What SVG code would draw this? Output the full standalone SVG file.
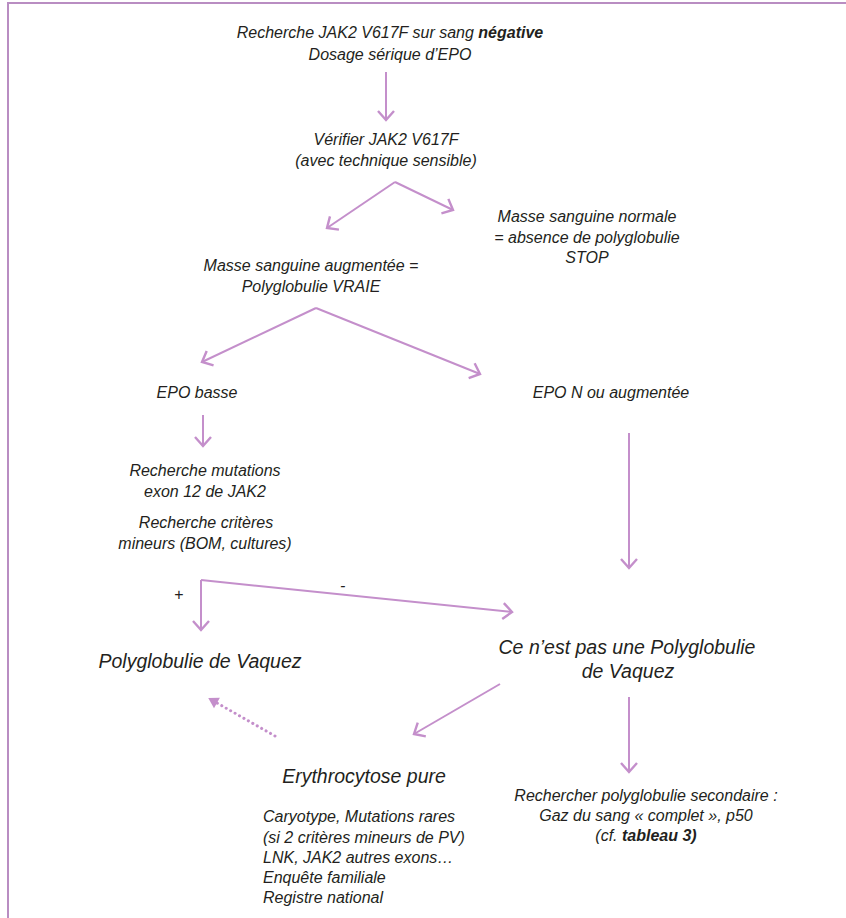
<svg xmlns="http://www.w3.org/2000/svg" width="846" height="918" viewBox="0 0 846 918">
<style>
.t{font-family:"Liberation Sans",Arial,sans-serif;font-style:italic;font-size:16px;fill:#231f20}
.c{text-anchor:middle}
.big{font-size:19.5px}
.b{font-weight:bold}
.ln{stroke:#c48fcb;stroke-width:2;fill:none;marker-end:url(#ah)}
.dot{stroke:#c48fcb;stroke-width:3;fill:none;stroke-dasharray:0.1 5;stroke-linecap:round;marker-end:url(#ahf)}
</style>
<defs>
<marker id="ah" markerUnits="userSpaceOnUse" markerWidth="24" markerHeight="24" viewBox="-12 -12 24 24" refX="0" refY="0" orient="auto">
<path d="M-9,-8 L0,0 L-9,8" stroke="#c48fcb" stroke-width="2.4" fill="none" stroke-linejoin="miter"/>
</marker>
<marker id="ahf" markerUnits="userSpaceOnUse" markerWidth="20" markerHeight="20" viewBox="-10 -10 20 20" refX="0" refY="0" orient="auto">
<path d="M-8,-6 L2,0 L-8,6 Z" fill="#c48fcb"/>
</marker>
</defs>
<rect width="846" height="918" fill="#ffffff"/>
<path d="M8,918 V3 H846" stroke="#b98dc2" stroke-width="2" fill="none"/>

<g id="n1"><text class="t c" x="390" y="38">Recherche JAK2 V617F sur sang <tspan class="b">négative</tspan></text>
<text class="t c" x="390" y="60">Dosage sérique d’EPO</text></g>
<g id="n2"><text class="t c" x="386" y="145">Vérifier JAK2 V617F</text>
<text class="t c" x="386" y="166">(avec technique sensible)</text></g>
<g id="n3"><text class="t c" x="587" y="222">Masse sanguine normale</text>
<text class="t c" x="587" y="243">= absence de polyglobulie</text>
<text class="t c" x="587" y="263">STOP</text></g>
<g id="n4"><text class="t c" x="311" y="271">Masse sanguine augmentée =</text>
<text class="t c" x="311" y="292">Polyglobulie VRAIE</text></g>
<g id="n5"><text class="t c" x="197" y="398">EPO basse</text></g>
<g id="n6"><text class="t c" x="611" y="398">EPO N ou augmentée</text></g>
<g id="n7"><text class="t c" x="205" y="476">Recherche mutations</text>
<text class="t c" x="205" y="497">exon 12 de JAK2</text>
<text class="t c" x="206" y="528">Recherche critères</text>
<text class="t c" x="205" y="549">mineurs (BOM, cultures)</text></g>
<g id="n8"><text class="t c big" x="200" y="668">Polyglobulie de Vaquez</text></g>
<g id="n9"><text class="t c big" x="627" y="654">Ce n’est pas une Polyglobulie</text>
<text class="t c big" x="628" y="678">de Vaquez</text></g>
<g id="n10"><text class="t c big" x="364" y="783">Erythrocytose pure</text>
<text class="t" x="263" y="822">Caryotype, Mutations rares</text>
<text class="t" x="263" y="843">(si 2 critères mineurs de PV)</text>
<text class="t" x="263" y="863">LNK, JAK2 autres exons…</text>
<text class="t" x="263" y="883">Enquête familiale</text>
<text class="t" x="263" y="903">Registre national</text></g>
<g id="n11"><text class="t c" x="646" y="801">Rechercher polyglobulie secondaire :</text>
<text class="t c" x="646" y="821">Gaz du sang « complet », p50</text>
<text class="t c" x="646" y="841">(cf. <tspan class="b">tableau 3)</tspan></text></g>

<g id="connectors">
<line class="ln" x1="386" y1="72" x2="386" y2="120"/>
<path class="ln" d="M395,182 L327,228"/>
<path class="ln" d="M395,182 L453,210"/>
<path class="ln" d="M316,308 L202,362"/>
<path class="ln" d="M316,308 L480,374"/>
<line class="ln" x1="203" y1="415" x2="203" y2="446"/>
<line class="ln" x1="629" y1="433" x2="629" y2="568"/>
<line class="ln" x1="201" y1="580" x2="201" y2="630"/>
<path class="ln" d="M201,580 L512,612"/>
<path class="ln" d="M500,684 L414,734"/>
<line class="ln" x1="629" y1="697" x2="629" y2="772"/>
<path class="dot" d="M275,736 L210,699"/>
<text class="t" x="174" y="600">+</text>
<text class="t" x="340" y="591">-</text>
</g>
</svg>
